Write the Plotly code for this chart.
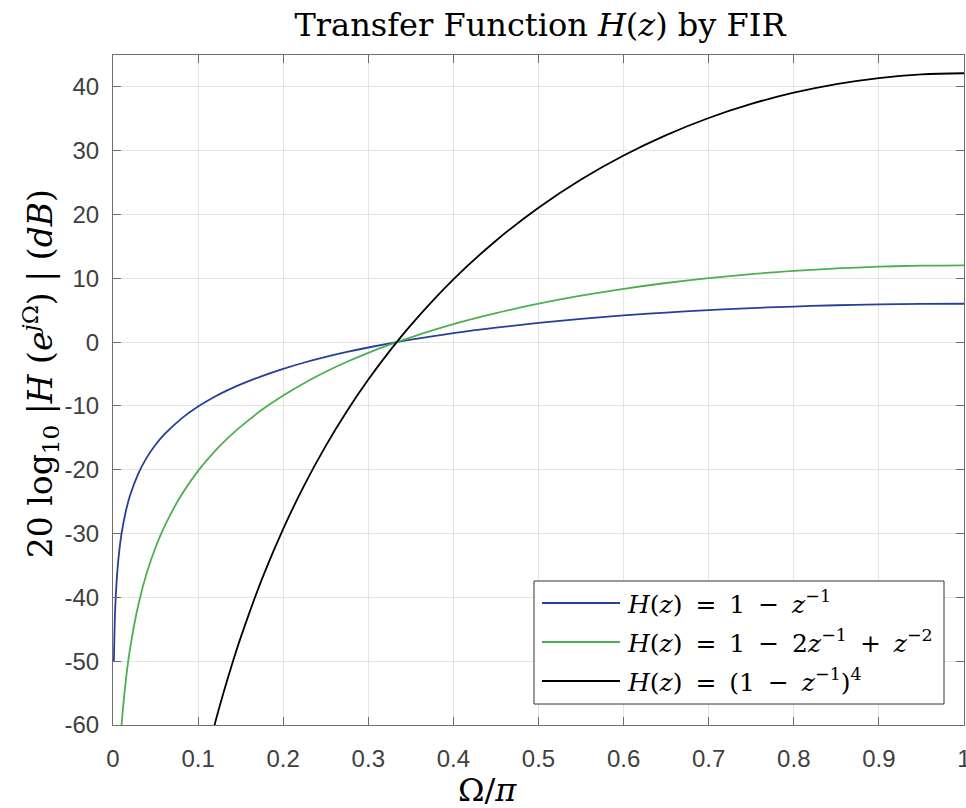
import plotly.graph_objects as go

# Normalised frequency Omega/pi and magnitude responses in dB
omega_first = [0.001, 0.002, 0.003, 0.005, 0.0075, 0.01, 0.015, 0.02, 0.03, 0.04,
               0.05, 0.06, 0.08, 0.1, 0.12, 0.13, 0.14, 0.15, 0.175, 0.2, 0.225,
               0.25, 0.275, 0.3, 0.325, 0.35, 0.4, 0.45, 0.5, 0.55, 0.6, 0.65,
               0.7, 0.75, 0.8, 0.85, 0.9, 0.95, 1.0]
db_first = [-50.06, -44.04, -40.51, -36.08, -32.56, -30.06, -26.54, -24.04, -20.52, -18.02,
            -16.09, -14.51, -12.02, -10.09, -8.52, -7.84, -7.20, -6.62, -5.31, -4.18, -3.19,
            -2.32, -1.54, -0.84, -0.20, 0.38, 1.41, 2.27, 3.01, 3.64, 4.18, 4.64,
            5.02, 5.33, 5.58, 5.78, 5.91, 5.99, 6.02]

omega_second = [0.0075, 0.01, 0.015, 0.02, 0.03, 0.04, 0.05, 0.06, 0.08, 0.1, 0.12,
                0.13, 0.14, 0.15, 0.175, 0.2, 0.225, 0.25, 0.275, 0.3, 0.325, 0.35,
                0.4, 0.45, 0.5, 0.55, 0.6, 0.65, 0.7, 0.75, 0.8, 0.85, 0.9, 0.95, 1.0]
db_second = [-65.12, -60.12, -53.08, -48.08, -41.04, -36.04, -32.18, -29.02, -24.04, -20.18, -17.04,
             -15.68, -14.41, -13.24, -10.61, -8.36, -6.39, -4.64, -3.08, -1.68, -0.40, 0.76,
             2.82, 4.54, 6.02, 7.28, 8.36, 9.27, 10.04, 10.67, 11.16, 11.55, 11.82, 11.99, 12.04]

omega_fourth = [0.1, 0.12, 0.13, 0.14, 0.15, 0.175, 0.2, 0.225, 0.25, 0.275, 0.3,
                0.325, 0.35, 0.4, 0.45, 0.5, 0.55, 0.6, 0.65, 0.7, 0.75, 0.8,
                0.85, 0.9, 0.95, 1.0]
db_fourth = [-70.64, -59.67, -54.87, -50.43, -46.31, -37.14, -29.26, -22.37, -16.26, -10.79, -5.87,
             -1.40, 2.68, 9.84, 15.90, 21.07, 25.49, 29.26, 32.45, 35.13, 37.33, 39.09,
             40.44, 41.39, 41.96, 42.14]

series_labels = [
    "<i>H</i>(<i>z</i>) = 1 − <i>z</i><sup>−1</sup>",
    "<i>H</i>(<i>z</i>) = 1 − 2<i>z</i><sup>−1</sup> + <i>z</i><sup>−2</sup>",
    "<i>H</i>(<i>z</i>) = (1 − <i>z</i><sup>−1</sup>)<sup>4</sup>",
]
series_colors = ["#26409a", "#4cb04f", "#000000"]

x_tickvals = [0, 0.1, 0.2, 0.3, 0.4, 0.5, 0.6, 0.7, 0.8, 0.9, 1.0]
x_ticktext = ["0", "0.1", "0.2", "0.3", "0.4", "0.5", "0.6", "0.7", "0.8", "0.9", "1"]
y_tickvals = [-60, -50, -40, -30, -20, -10, 0, 10, 20, 30, 40]
y_ticktext = ["-60", "-50", "-40", "-30", "-20", "-10", "0", "10", "20", "30", "40"]

SERIF = "DejaVu Serif, Liberation Serif, serif"
SANS = "Liberation Sans, Arial, Helvetica, sans-serif"
AXIS_COLOR = "#6e6e6e"
TICK_FONT_COLOR = "#404040"
NB = "\u00a0"
THIN = "\u2009"

fig = go.Figure()
for xs, ys, name, color in zip([omega_first, omega_second, omega_fourth],
                               [db_first, db_second, db_fourth],
                               series_labels, series_colors):
    fig.add_trace(go.Scatter(
        x=xs, y=ys, mode="lines", name=name,
        line=dict(color=color, width=1.8, shape="spline", smoothing=1.0),
        showlegend=False,
    ))

# Boxed legend in the lower-right corner (paper coordinates)
box_x0, box_x1, box_y0, box_y1 = 0.4947, 0.9765, 0.0313, 0.2149
row_y = [0.1821, 0.1239, 0.0657]
shapes = [dict(type="rect", xref="paper", yref="paper",
               x0=box_x0, x1=box_x1, y0=box_y0, y1=box_y1,
               line=dict(color="#333333", width=1), fillcolor="white", layer="above")]
annotations = []
for yy, name, color in zip(row_y, series_labels, series_colors):
    shapes.append(dict(type="line", xref="paper", yref="paper",
                       x0=0.5041, x1=0.5958, y0=yy, y1=yy,
                       line=dict(color=color, width=1.8), layer="above"))
    spaced = (name.replace(" = ", NB + THIN + "=" + THIN + NB)
                  .replace(" − ", NB + THIN + "−" + THIN + NB)
                  .replace(" + ", NB + THIN + "+" + THIN + NB))
    annotations.append(dict(xref="paper", yref="paper", x=0.602, y=yy,
                            xanchor="left", yanchor="middle", showarrow=False,
                            text=spaced,
                            font=dict(family=SERIF, size=25, color="black")))

# Axis titles
annotations.append(dict(xref="paper", yref="paper", x=0.44, y=-0.097,
                        xanchor="center", yanchor="middle", showarrow=False,
                        text="Ω/<i>π</i>", font=dict(family=SERIF, size=32, color="black")))
annotations.append(dict(xref="paper", yref="paper", x=-0.0858, y=0.525,
                        xanchor="center", yanchor="middle", showarrow=False, textangle=-90,
                        text="20" + NB + "log<sub>10</sub>" + NB + "|<i>H</i>" + NB
                             + "(<i>e</i><sup><i>j</i>Ω</sup>)" + NB + "|" + NB + "(<i>dB</i>)",
                        font=dict(family=SERIF, size=33, color="black")))

fig.update_layout(
    width=966, height=808,
    margin=dict(l=113, r=2, t=55, b=83, autoexpand=False),
    paper_bgcolor="white", plot_bgcolor="white",
    title=dict(text="Transfer Function <i>H</i>(<i>z</i>) by FIR",
               x=0.559, xanchor="center", y=0.969, yanchor="middle",
               font=dict(family=SERIF, size=32, color="black")),
    shapes=shapes, annotations=annotations,
    showlegend=False,
)
fig.update_xaxes(
    range=[0, 1], tickvals=x_tickvals, ticktext=x_ticktext, automargin=False,
    showgrid=True, gridcolor="#e4e4e4", gridwidth=1, zeroline=False,
    showline=True, linecolor=AXIS_COLOR, linewidth=1, mirror="ticks",
    ticks="inside", ticklen=8, tickcolor=AXIS_COLOR,
    ticklabeloverflow="allow", ticklabelstandoff=12,
    tickfont=dict(family=SANS, size=24, color=TICK_FONT_COLOR),
)
fig.update_yaxes(
    range=[-60, 45], tickvals=y_tickvals, ticktext=y_ticktext, automargin=False,
    showgrid=True, gridcolor="#e4e4e4", gridwidth=1, zeroline=False,
    showline=True, linecolor=AXIS_COLOR, linewidth=1, mirror="ticks",
    ticks="inside", ticklen=8, tickcolor=AXIS_COLOR,
    ticklabeloverflow="allow", ticklabelstandoff=8,
    tickfont=dict(family=SANS, size=24, color=TICK_FONT_COLOR),
)

fig.write_html("out.html")
